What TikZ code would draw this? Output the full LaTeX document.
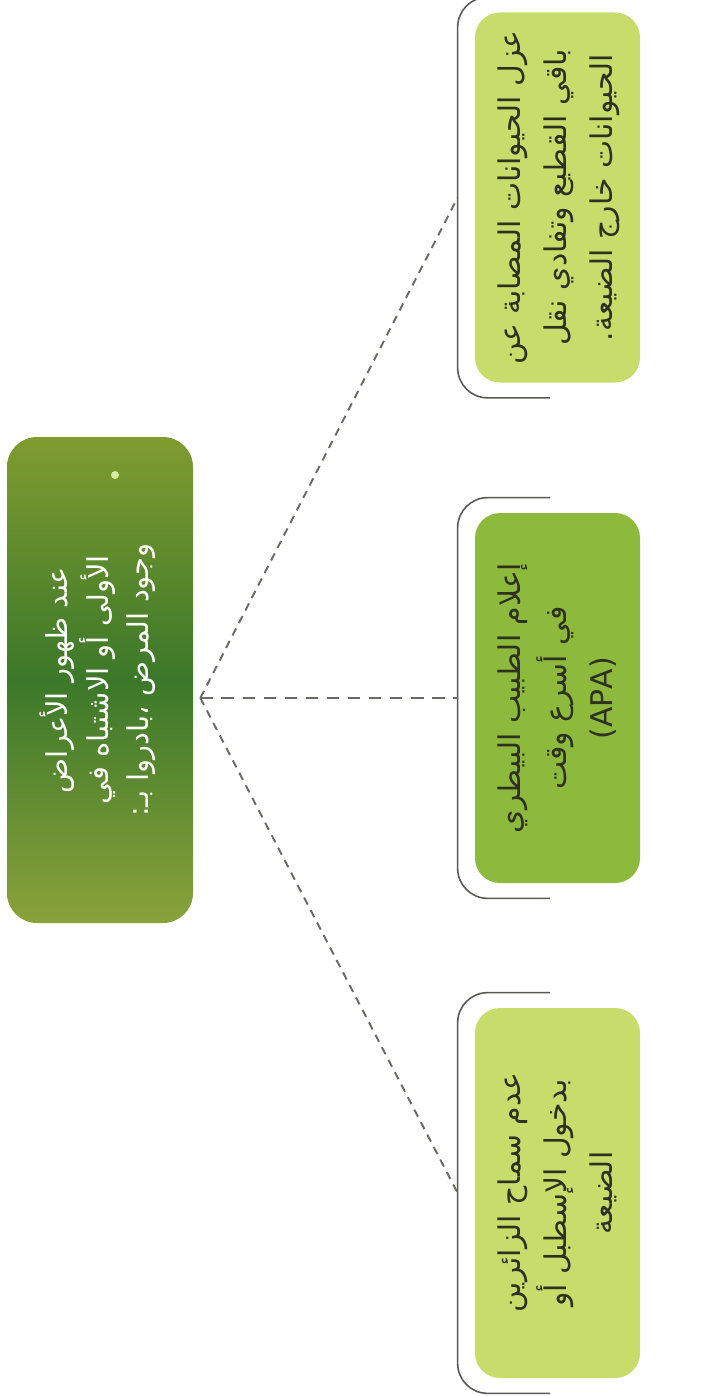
\documentclass[tikz,border=0pt]{standalone}
\usepackage{fontspec}
\usepackage{graphicx}
\usetikzlibrary{shapes,arrows,positioning,calc}
\newfontfamily\arabicfont[Script=Arabic]{DejaVu Sans}
\TeXXeTstate=1
\definecolor{leaflight}{HTML}{C8DC6C}
\definecolor{leafmid}{HTML}{8DB93C}
\definecolor{leafink}{HTML}{2E3020}
\definecolor{mainolive}{HTML}{809C30}
\definecolor{mainoliveb}{HTML}{8AA23A}
\definecolor{maindark}{HTML}{3C782A}
\definecolor{bracketgray}{HTML}{5A5A55}
\definecolor{linkgray}{HTML}{6A6A66}
\newcommand{\vlines}[1]{\rotatebox{90}{\begin{tabular}{@{}c@{}}#1\end{tabular}}}
\newcommand{\artext}[1]{\beginR #1\endR}

\begin{document}
\begin{tikzpicture}[
    mainbox/.style={rectangle, rounded corners=0.6cm, minimum width=3.72cm, minimum height=9.72cm, inner sep=0pt, top color=mainolive, bottom color=mainoliveb, middle color=maindark, text=white, font=\arabicfont\fontsize{16.5}{22.5}\selectfont},
    leaf/.style={rectangle, rounded corners=0.5cm, minimum width=3.3cm, minimum height=7.4cm, inner sep=0pt, fill=leaflight, text=leafink, font=\arabicfont\fontsize{17}{26}\selectfont},
    leafdark/.style={leaf, fill=leafmid},
    glow/.style={circle, fill=yellow!60!green!40, inner sep=0pt, minimum size=0.16cm},
    bracket/.style={draw=bracketgray, line width=0.9pt, rounded corners=0.6cm},
    link/.style={draw=linkgray, line width=1.1pt, dash pattern=on 4.5pt off 3.5pt},
    linklong/.style={link, dash pattern=on 7pt off 5pt}
]
\useasboundingbox (0,0) rectangle (14.54,-27.92);

% Main question box
\node[mainbox] at (2.0,-13.6) (alert) {\vlines{\artext{عند ظهور الأعراض}\\ \artext{الأولى أو الاشتباه في}\\ \artext{وجود المرض ،بادروا بـ:}}};
\node[glow] at (2.3,-9.5) (spark) {};

% Actions
\node[leaf] at (11.15,-3.95) (isolate) {\vlines{\artext{عزل الحيوانات المصابة عن}\\ \artext{باقي القطيع وتفادي نقل}\\ \artext{الحيوانات خارج الضيعة.}}};
\node[leafdark] at (11.15,-13.96) (vet) {\vlines{\artext{إعلام الطبيب البيطري}\\ \artext{في أسرع وقت}\\ (APA)}};
\node[leaf] at (11.15,-23.86) (visitors) {\vlines{\artext{عدم سماح الزائرين}\\ \artext{بدخول الإسطبل أو}\\ \artext{الضيعة}}};

% Brackets
\foreach \b in {isolate,vet,visitors}{
    \draw[bracket] ($(\b.north)+(-0.15,0.3)$) -| ($(\b.south west)+(-0.34,-0.3)$) -- ($(\b.south)+(-0.15,-0.3)$);
    \coordinate (\b-in) at ($(\b.west)+(-0.34,0)$);
}

% Links
\coordinate (hub) at ($(alert.east |- vet.west)+(0.14,0)$);
\draw[link] (hub) -- (isolate-in);
\draw[linklong] (hub) -- (vet-in);
\draw[link] (hub) -- (visitors-in);

\end{tikzpicture}
\end{document}
